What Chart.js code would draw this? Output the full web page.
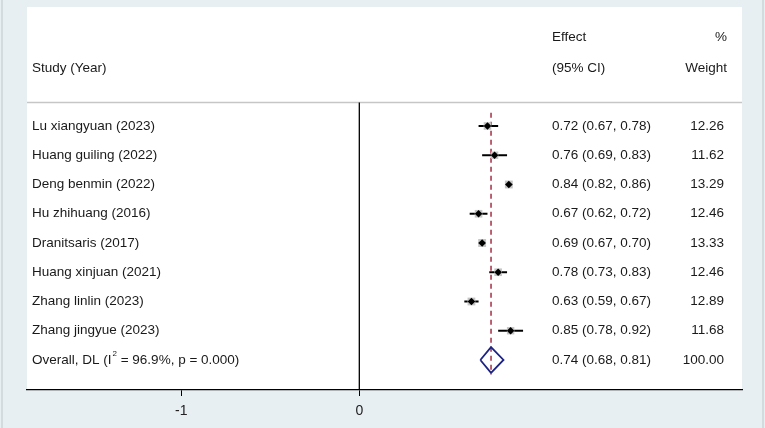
<!DOCTYPE html>
<html>
<head>
<meta charset="utf-8">
<script src="https://cdn.jsdelivr.net/npm/chart.js@4.4.1/dist/chart.umd.min.js"></script>
<style>
  html, body { margin: 0; padding: 0; background: #e8eff2; }
  #forest { display: block; }
</style>
</head>
<body>
<canvas id="forest" width="765" height="428"></canvas>
<script>
// Forest plot data
const studies = ["Lu xiangyuan (2023)", "Huang guiling (2022)", "Deng benmin (2022)", "Hu zhihuang (2016)",
  "Dranitsaris (2017)", "Huang xinjuan (2021)", "Zhang linlin (2023)", "Zhang jingyue (2023)"];
const effect = [0.72, 0.76, 0.84, 0.67, 0.69, 0.78, 0.63, 0.85];
const lower  = [0.67, 0.69, 0.82, 0.62, 0.67, 0.73, 0.59, 0.78];
const upper  = [0.78, 0.83, 0.86, 0.72, 0.70, 0.83, 0.67, 0.92];
const weight = [12.26, 11.62, 13.29, 12.46, 13.33, 12.46, 12.89, 11.68];
const overallEffect = 0.74, overallLower = 0.68, overallUpper = 0.81, overallWeight = 100;
const overallLabel = ["Overall, DL (I", "2", " = 96.9%, p = 0.000)"];
const xTicks = [-1, 0];

const FONT = '13.5px "Liberation Sans", Arial, sans-serif';
const TEXT = "#1a1a1a";
const nRows = studies.length;       // overall row index
const headerLine = -0.8;

// CI segments, one dataset per study
const ciSets = studies.map((s, i) => ({
  data: [{ x: lower[i], y: i }, { x: upper[i], y: i }],
  showLine: true, borderColor: "#000", borderWidth: 2, pointRadius: 0, order: 2
}));

const bgPlugin = {
  id: "bg",
  beforeDraw(chart) {
    const { ctx, chartArea: a } = chart;
    ctx.save();
    ctx.fillStyle = "#e8eff2";
    ctx.fillRect(0, 0, chart.width, chart.height);
    ctx.fillStyle = "#d3dbdf";
    ctx.fillRect(1, 0, 2, chart.height);
    ctx.fillRect(762, 0, 2, chart.height);
    ctx.fillStyle = "#fff";
    ctx.fillRect(a.left, a.top, a.right - a.left, a.bottom - a.top);
    // header rule
    const y = chart.scales.y.getPixelForValue(headerLine);
    ctx.strokeStyle = "#c6c6c6";
    ctx.lineWidth = 1.5;
    ctx.beginPath();
    ctx.moveTo(a.left, y);
    ctx.lineTo(a.right, y);
    ctx.stroke();
    ctx.restore();
  }
};

const textPlugin = {
  id: "texts",
  afterDraw(chart) {
    const { ctx, chartArea: a } = chart;
    const ys = chart.scales.y;
    const labX = a.left + 5, effX = 552, wX = 724;
    ctx.save();
    ctx.font = FONT;
    ctx.fillStyle = TEXT;
    ctx.textBaseline = "middle";
    // headers
    ctx.textAlign = "left";
    ctx.fillText("Effect", effX, 37);
    ctx.fillText("Study (Year)", labX, 68);
    ctx.fillText("(95% CI)", effX, 68);
    ctx.textAlign = "right";
    ctx.fillText("%", wX + 3, 37);
    ctx.fillText("Weight", wX + 3, 68);
    // rows
    studies.forEach((s, i) => {
      const y = ys.getPixelForValue(i);
      ctx.textAlign = "left";
      ctx.fillText(s, labX, y);
      ctx.fillText(effect[i].toFixed(2) + " (" + lower[i].toFixed(2) + ", " + upper[i].toFixed(2) + ")", effX, y);
      ctx.textAlign = "right";
      ctx.fillText(weight[i].toFixed(2), wX, y);
    });
    // overall
    const yo = ys.getPixelForValue(nRows);
    ctx.textAlign = "left";
    ctx.fillText(overallLabel[0], labX, yo);
    let x = labX + ctx.measureText(overallLabel[0]).width + 1;
    ctx.font = '8px "Liberation Sans", Arial, sans-serif';
    ctx.fillText(overallLabel[1], x, yo - 6);
    x += ctx.measureText(overallLabel[1]).width;
    ctx.font = FONT;
    ctx.fillText(overallLabel[2], x, yo);
    ctx.fillText(overallEffect.toFixed(2) + " (" + overallLower.toFixed(2) + ", " + overallUpper.toFixed(2) + ")", effX, yo);
    ctx.textAlign = "right";
    ctx.fillText(overallWeight.toFixed(2), wX, yo);
    ctx.restore();
  }
};

new Chart(document.getElementById("forest"), {
  type: "scatter",
  data: {
    datasets: [
      {
        data: effect.map((v, i) => ({ x: v, y: i })),
        pointStyle: "rectRot", pointRadius: 3.8, backgroundColor: "#000", borderColor: "#000", borderWidth: 0, order: 0
      },
      {
        data: effect.map((v, i) => ({ x: v, y: i })),
        pointStyle: "rect", pointRadius: weight.map(w => 5.4 * Math.sqrt(w / 12.5)),
        backgroundColor: "#c4c4c4", borderWidth: 0, order: 1
      },
      ...ciSets,
      {
        // overall diamond
        data: [{ x: overallLower, y: nRows }, { x: overallEffect, y: nRows - 0.44 },
               { x: overallUpper, y: nRows }, { x: overallEffect, y: nRows + 0.44 },
               { x: overallLower, y: nRows }],
        showLine: true, borderColor: "#1c2383", borderWidth: 1.8, pointRadius: 0, order: 3
      },
      {
        // overall effect reference line
        data: [{ x: overallEffect, y: -0.45 }, { x: overallEffect, y: nRows + 0.5 }],
        showLine: true, borderColor: "#9e1f38", borderWidth: 1.4, borderDash: [5, 4], pointRadius: 0, order: 4
      },
      {
        // null line
        data: [{ x: 0, y: headerLine }, { x: 0, y: 9.03 }],
        showLine: true, borderColor: "#000", borderWidth: 1.3, pointRadius: 0, order: 5
      }
    ]
  },
  options: {
    responsive: false,
    animation: false,
    layout: { padding: { left: 27, right: 23, top: 7, bottom: 0 } },
    plugins: { legend: { display: false }, tooltip: { enabled: false } },
    scales: {
      x: {
        type: "linear", position: "bottom", min: -1.867, max: 2.15,
        afterBuildTicks: s => { s.ticks = xTicks.map(v => ({ value: v })); },
        afterFit: s => { s.height = 38; },
        grid: { drawOnChartArea: false, drawTicks: true, tickLength: 6, color: "#000" },
        border: { color: "#000", width: 1.3 },
        ticks: { color: "#222", font: { family: '"Liberation Sans", Arial, sans-serif', size: 14 }, padding: 7 }
      },
      y: { type: "linear", display: false, reverse: true, min: -4.068, max: 9.026 }
    }
  },
  plugins: [bgPlugin, textPlugin]
});
</script>
</body>
</html>
